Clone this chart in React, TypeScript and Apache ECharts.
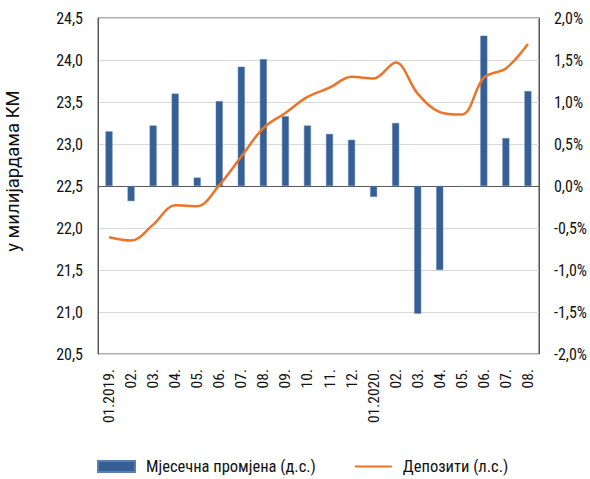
import React, { useEffect, useRef } from "react";
import * as echarts from "echarts";

const categories = ["01.2019.", "02.", "03.", "04.", "05.", "06.", "07.", "08.", "09.", "10.", "11.", "12.", "01.2020.", "02.", "03.", "04.", "05.", "06.", "07.", "08."];
const monthlyChange = [0.65, -0.18, 0.72, 1.10, 0.10, 1.01, 1.42, 1.51, 0.83, 0.72, 0.62, 0.55, -0.13, 0.75, -1.52, -1.00, -0.01, 1.79, 0.57, 1.13];
const deposits = [21.89, 21.85, 22.04, 22.27, 22.26, 22.51, 22.85, 23.19, 23.37, 23.56, 23.67, 23.80, 23.78, 23.97, 23.60, 23.38, 23.35, 23.79, 23.90, 24.19];
const barName = "Мјесечна промјена (д.с.)";
const lineName = "Депозити (л.с.)";
const leftAxisName = "у милијардама КМ";

const FONT = "'Roboto Condensed', Roboto, sans-serif";
const TXT = "#111111";

export default function App() {
  const ref = useRef<HTMLDivElement>(null);
  useEffect(() => {
    document.body.style.margin = "0";
    const chart = echarts.init(ref.current!, null, { renderer: "svg" });
    chart.setOption({
      animation: false,
      textStyle: { fontFamily: FONT },
      grid: { left: 98, right: 50, top: 18, bottom: 125, show: true, borderColor: "#595959", borderWidth: 1, containLabel: false },
      legend: {
        left: 97,
        top: 458,
        padding: 0,
        itemWidth: 37,
        itemHeight: 11,
        itemGap: 38,
        textStyle: { fontFamily: FONT, fontSize: 16.5, color: TXT, padding: [0, 0, 0, 6] },
        data: [
          { name: barName, icon: "rect" },
          { name: lineName, itemStyle: { opacity: 0 } },
        ],
      },
      graphic: [
        {
          type: "text",
          x: 13,
          y: 171,
          rotation: Math.PI / 2,
          style: { text: leftAxisName, fontFamily: "Roboto, sans-serif", fontSize: 18.5, fill: TXT, align: "center", verticalAlign: "middle" },
        },
      ],
      xAxis: {
        type: "category",
        data: categories,
        axisTick: { show: false },
        axisLine: { lineStyle: { color: "#595959" } },
        axisLabel: { rotate: 90, interval: 0, margin: 15, fontSize: 15.5, color: TXT, fontFamily: FONT },
      },
      yAxis: [
        {
          type: "value",
          min: 20.5,
          max: 24.5,
          interval: 0.5,
          axisLine: { show: true, lineStyle: { color: "#595959" } },
          axisTick: { show: false },
          splitLine: { lineStyle: { color: "#d9d9d9", width: 1 } },
          axisLabel: { fontSize: 16, color: TXT, fontFamily: FONT, margin: 15, formatter: (v: number) => v.toFixed(1).replace(".", ",") },
        },
        {
          type: "value",
          min: -2,
          max: 2,
          interval: 0.5,
          position: "right",
          axisLine: { show: true, lineStyle: { color: "#595959" } },
          axisTick: { show: false },
          splitLine: { show: false },
          axisLabel: { fontSize: 16, color: TXT, fontFamily: FONT, margin: 15, formatter: (v: number) => v.toFixed(1).replace(".", ",") + "%" },
        },
      ],
      series: [
        {
          name: barName,
          type: "bar",
          yAxisIndex: 1,
          data: monthlyChange,
          barWidth: 7,
          itemStyle: { color: "#355F95", borderColor: "#5B80B0", borderWidth: 0.5 },
        },
        {
          name: lineName,
          type: "line",
          yAxisIndex: 0,
          data: deposits,
          smooth: 0.35,
          symbol: "none",
          lineStyle: { color: "#EC7427", width: 2.5 },
          itemStyle: { color: "#EC7427" },
          z: 3,
        },
      ],
    });
    return () => chart.dispose();
  }, []);
  return <div ref={ref} style={{ width: 590, height: 479 }} />;
}
